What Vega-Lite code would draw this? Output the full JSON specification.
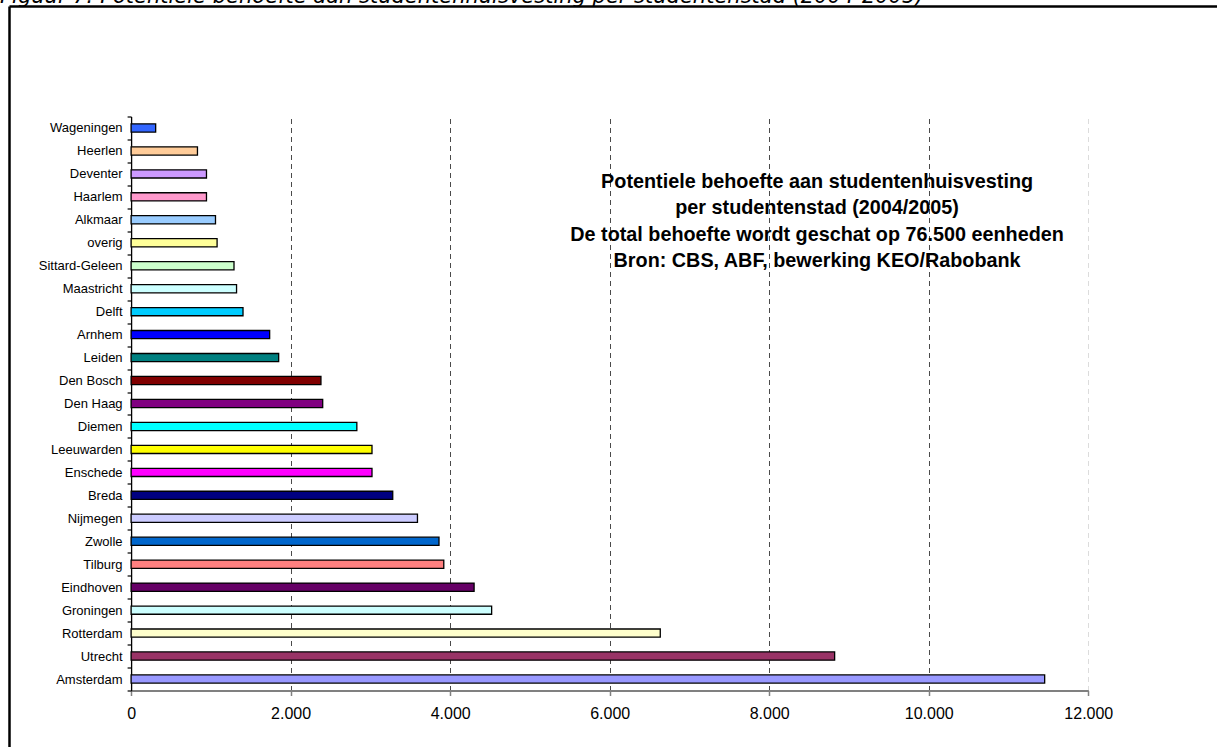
{
  "$schema": "https://vega.github.io/schema/vega-lite/v6.json",
  "width": 1208,
  "height": 574,
  "autosize": {"type": "none"},
  "padding": {"left": 9, "top": 116.5, "right": 0, "bottom": 56.5},
  "background": "white",
  "config": {"view": {"stroke": null}, "font": "Liberation Sans"},
  "resolve": {
    "scale": {"x": "independent", "y": "independent"},
    "axis": {"x": "independent", "y": "independent"}
  },
  "layer": [
    {
      "layer": [
        {
          "data": {
            "values": [
              {"stad": "Wageningen", "behoefte": 308},
              {"stad": "Heerlen", "behoefte": 832},
              {"stad": "Deventer", "behoefte": 945},
              {"stad": "Haarlem", "behoefte": 945},
              {"stad": "Alkmaar", "behoefte": 1058},
              {"stad": "overig", "behoefte": 1078},
              {"stad": "Sittard-Geleen", "behoefte": 1290},
              {"stad": "Maastricht", "behoefte": 1322},
              {"stad": "Delft", "behoefte": 1403},
              {"stad": "Arnhem", "behoefte": 1737},
              {"stad": "Leiden", "behoefte": 1850},
              {"stad": "Den Bosch", "behoefte": 2380},
              {"stad": "Den Haag", "behoefte": 2402},
              {"stad": "Diemen", "behoefte": 2830},
              {"stad": "Leeuwarden", "behoefte": 3020},
              {"stad": "Enschede", "behoefte": 3020},
              {"stad": "Breda", "behoefte": 3280},
              {"stad": "Nijmegen", "behoefte": 3590},
              {"stad": "Zwolle", "behoefte": 3860},
              {"stad": "Tilburg", "behoefte": 3920},
              {"stad": "Eindhoven", "behoefte": 4300},
              {"stad": "Groningen", "behoefte": 4520},
              {"stad": "Rotterdam", "behoefte": 6634},
              {"stad": "Utrecht", "behoefte": 8820},
              {"stad": "Amsterdam", "behoefte": 11453}
            ]
          },
          "mark": {"type": "bar", "height": 8.2, "stroke": "black", "strokeWidth": 1.3},
          "encoding": {
            "y": {
              "field": "stad",
              "type": "nominal",
              "sort": null,
              "scale": {
                "domain": ["Wageningen", "Heerlen", "Deventer", "Haarlem", "Alkmaar", "overig", "Sittard-Geleen", "Maastricht", "Delft", "Arnhem", "Leiden", "Den Bosch", "Den Haag", "Diemen", "Leeuwarden", "Enschede", "Breda", "Nijmegen", "Zwolle", "Tilburg", "Eindhoven", "Groningen", "Rotterdam", "Utrecht", "Amsterdam"],
                "paddingInner": 0,
                "paddingOuter": 0
              },
              "axis": {
                "orient": "left",
                "offset": -122.1,
                "tickBand": "extent",
                "domainColor": "black",
                "domainWidth": 1.3,
                "tickColor": "black",
                "tickWidth": 1.2,
                "tickSize": 4,
                "labelFont": "Liberation Sans",
                "labelFontSize": 13,
                "labelColor": "black",
                "labelPadding": 5,
                "title": null,
                "grid": false
              }
            },
            "x": {
              "field": "behoefte",
              "type": "quantitative",
              "scale": {"domain": [0, 12000], "range": [122.1, 1079.3], "nice": false, "zero": true},
              "axis": {
                "orient": "bottom",
                "values": [0, 2000, 4000, 6000, 8000, 10000, 12000],
                "labelExpr": "replace(format(datum.value, ','), ',', '.')",
                "grid": true,
                "gridDash": [5, 4],
                "gridWidth": 1,
                "gridColor": {"condition": {"test": "datum.value >= 12000", "value": "#dcdcdc"}, "value": "#4a4a4a"},
                "gridOpacity": {"condition": {"test": "datum.value == 0", "value": 0}, "value": 1},
                "domainColor": "#808080",
                "domainWidth": 2,
                "tickColor": "#808080",
                "tickWidth": 1.5,
                "tickSize": 5,
                "labelFont": "Liberation Sans",
                "labelFontSize": 16,
                "labelColor": "black",
                "labelPadding": 10,
                "labelFlush": false,
                "labelOverlap": false,
                "title": null
              }
            },
            "color": {
              "field": "stad",
              "type": "nominal",
              "legend": null,
              "scale": {
                "domain": ["Wageningen", "Heerlen", "Deventer", "Haarlem", "Alkmaar", "overig", "Sittard-Geleen", "Maastricht", "Delft", "Arnhem", "Leiden", "Den Bosch", "Den Haag", "Diemen", "Leeuwarden", "Enschede", "Breda", "Nijmegen", "Zwolle", "Tilburg", "Eindhoven", "Groningen", "Rotterdam", "Utrecht", "Amsterdam"],
                "range": ["#3366FF", "#FFCC99", "#CC99FF", "#FF99CC", "#99CCFF", "#FFFF99", "#CCFFCC", "#CCFFFF", "#00CCFF", "#0000FF", "#008080", "#800000", "#800080", "#00FFFF", "#FFFF00", "#FF00FF", "#000080", "#CCCCFF", "#0066CC", "#FF8080", "#660066", "#CCFFFF", "#FFFFCC", "#993366", "#9999FF"]
              }
            }
          }
        },
        {
          "data": {
            "values": [
              {"regels": ["Potentiele behoefte aan studentenhuisvesting", "per studentenstad (2004/2005)", "De total behoefte wordt geschat op 76.500 eenheden", "Bron: CBS, ABF, bewerking KEO/Rabobank"]}
            ]
          },
          "mark": {
            "type": "text",
            "font": "Liberation Sans",
            "fontSize": 19.8,
            "fontWeight": "bold",
            "align": "center",
            "baseline": "alphabetic",
            "lineHeight": 26.5,
            "dy": 14,
            "color": "black"
          },
          "encoding": {
            "x": {"datum": 8600, "type": "quantitative"},
            "y": {"datum": "Deventer", "type": "nominal"},
            "text": {"field": "regels", "type": "nominal"}
          }
        },
        {
          "data": {
            "values": [
              {"bijschrift": "Figuur 7: Potentiele behoefte aan studentenhuisvesting per studentenstad (2004-2005)"}
            ]
          },
          "mark": {
            "type": "text",
            "font": "DejaVu Sans",
            "fontSize": 21,
            "fontStyle": "italic",
            "align": "left",
            "baseline": "alphabetic",
            "dy": -125,
            "color": "black"
          },
          "encoding": {
            "x": {"datum": -1643, "type": "quantitative"},
            "y": {"datum": "Wageningen", "type": "nominal"},
            "text": {"field": "bijschrift", "type": "nominal"}
          }
        }
      ]
    },
    {
      "data": {"values": [{}]},
      "mark": {"type": "point", "opacity": 0},
      "encoding": {
        "x": {
          "datum": 0,
          "type": "quantitative",
          "scale": {"domain": [0, 1]},
          "axis": {"orient": "top", "offset": 110.5, "domainColor": "black", "domainWidth": 2.5, "ticks": false, "labels": false, "grid": false, "title": null}
        },
        "y": {
          "datum": 0,
          "type": "quantitative",
          "scale": {"domain": [0, 1], "range": [700, -110.5]},
          "axis": {"orient": "left", "domainColor": "black", "domainWidth": 2.5, "ticks": false, "labels": false, "grid": false, "title": null}
        }
      }
    }
  ]
}
